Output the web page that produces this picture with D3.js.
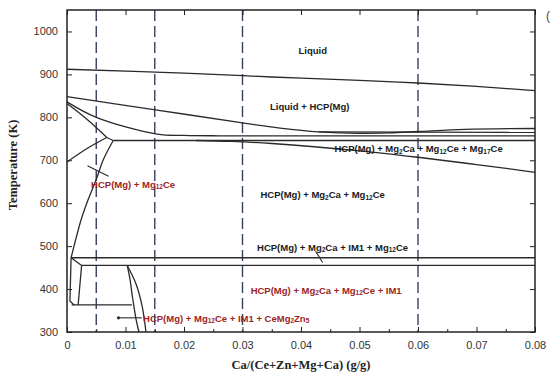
<!DOCTYPE html>
<html>
<head>
<meta charset="utf-8">
<script src="https://cdn.jsdelivr.net/npm/d3@7"></script>
<style>
  html, body { margin: 0; padding: 0; background: #fff; }
  svg { display: block; }
</style>
</head>
<body>
<svg id="chart" width="555" height="381"></svg>
<script>
// Isopleth section: Ca mass fraction vs temperature
const xTicks = [0, 0.01, 0.02, 0.03, 0.04, 0.05, 0.06, 0.07, 0.08];
const xMinorTicks = [0.005, 0.015, 0.025, 0.035, 0.045, 0.055, 0.065, 0.075];
const yTicks = [300, 400, 500, 600, 700, 800, 900, 1000];
const dashedCompositions = [0.005, 0.015, 0.03, 0.06];

// Phase boundaries as [Ca fraction, temperature K]
const liquidus = [[0, 912], [0.02, 903], [0.035, 894], [0.05, 886], [0.06, 880], [0.07, 872], [0.08, 862]];
const solidusUpper = [[0, 848], [0.0154, 817], [0.03, 787], [0.0364, 775], [0.043, 766], [0.0483, 763], [0.055, 764], [0.06, 767], [0.068, 772], [0.08, 774]];
const solidusMid = [[0, 836], [0.005, 800], [0.0154, 761], [0.02, 758], [0.026, 757], [0.08, 757]];
const threePhaseUpper = [[0.043, 766], [0.08, 765]];
const eutecticFlat = [[0.0079, 746], [0.08, 746]];
const lowerBoundary = [[0.022, 746], [0.028, 744], [0.035, 739], [0.05, 722], [0.06, 707], [0.07, 690], [0.08, 672]];
const hcpUpper = [[0, 832], [0.003, 800], [0.0055, 770], [0.0068, 753]];
const hcpLower = [[0, 696], [0.0035, 728], [0.0068, 753]];
const peakLink = [[0.0068, 753], [0.0079, 746]];
const solvus = [[0.0079, 746], [0.0062, 701], [0.005, 655], [0.0036, 608], [0.0024, 561], [0.0012, 500], [0.0007, 473]];
const flat473 = [[0.0007, 473], [0.08, 473]];
const flat455 = [[0.0025, 455], [0.08, 455]];
const lowLink = [[0.0007, 473], [0.0025, 455]];
const lowLeft = [[0.0007, 473], [0.0005, 372], [0.0012, 363]];
const lowVertical = [[0.0025, 455], [0.0019, 363]];
const flat363 = [[0.0008, 363], [0.0111, 363]];
const lensLeft = [[0.0103, 455], [0.0108, 420], [0.0111, 390], [0.0114, 363], [0.0118, 330], [0.0123, 300]];
const lensRight = [[0.0103, 455], [0.0118, 412], [0.0128, 363], [0.0135, 300]];

const curvedBoundaries = [liquidus, solidusUpper, solidusMid, lowerBoundary, hcpUpper, hcpLower, solvus, lensLeft, lensRight];
const straightBoundaries = [threePhaseUpper, eutecticFlat, peakLink, flat473, flat455, lowLink, lowLeft, lowVertical, flat363];

// Leader lines from labels to narrow fields
const leaders = [
  [[0.0035, 687], [0.0071, 663]],
  [[0.0425, 488], [0.0437, 462]],
  [[0.0088, 333], [0.0128, 333]]
];
const leaderDots = [[0.0088, 333]];

// Phase-field labels: text uses _{..} for subscripts; [Ca fraction, K, anchor]
const blackLabels = [
  ["Liquid", 0.042, 957, "middle"],
  ["Liquid + HCP(Mg)", 0.0415, 826, "middle"],
  ["HCP(Mg) + Mg_{2}Ca + Mg_{12}Ce + Mg_{17}Ce", 0.0601, 728, "middle"],
  ["HCP(Mg) + Mg_{2}Ca + Mg_{12}Ce", 0.0437, 621, "middle"],
  ["HCP(Mg) + Mg_{2}Ca + IM1 + Mg_{12}Ce", 0.0454, 499, "middle"]
];
const redLabels = [
  ["HCP(Mg) + Mg_{12}Ce", 0.0113, 645, "middle"],
  ["HCP(Mg) + Mg_{2}Ca + Mg_{12}Ce + IM1", 0.0443, 398, "middle"],
  ["HCP(Mg) + Mg_{12}Ce + IM1 + CeMg_{2}Zn_{5}", 0.013, 333, "start"]
];

const xTitle = "Ca/(Ce+Zn+Mg+Ca) (g/g)";
const yTitle = "Temperature (K)";

const svg = d3.select("#chart");
const margin = { left: 67, right: 535, top: 10, bottom: 332 };

const x = d3.scaleLinear().domain([0, 0.08]).range([margin.left, margin.right]);
const y = d3.scaleLinear().domain([300, 1050]).range([margin.bottom, margin.top]);

const tickFont = "'Liberation Sans', Arial, sans-serif";
const labelFont = "'Liberation Sans', Arial, sans-serif";
const titleFont = "'Liberation Serif', 'Times New Roman', serif";

// Composition guide lines
svg.append("g").selectAll("line").data(dashedCompositions).join("line")
  .attr("x1", d => x(d)).attr("x2", d => x(d))
  .attr("y1", y(1050)).attr("y2", y(300))
  .attr("stroke", "#34415e").attr("stroke-width", 1.4)
  .attr("stroke-dasharray", "11,5");

const smooth = d3.line().x(d => x(d[0])).y(d => y(d[1])).curve(d3.curveCatmullRom.alpha(0.5));
const straight = d3.line().x(d => x(d[0])).y(d => y(d[1]));

const gLines = svg.append("g").attr("fill", "none").attr("stroke", "#2a2a2a").attr("stroke-width", 1.3);
gLines.selectAll("path.c").data(curvedBoundaries).join("path").attr("class", "c").attr("d", smooth);
gLines.selectAll("path.s").data(straightBoundaries).join("path").attr("class", "s").attr("d", straight);
gLines.selectAll("path.l").data(leaders).join("path").attr("class", "l").attr("d", straight).attr("stroke-width", 1.1);
svg.append("g").selectAll("circle").data(leaderDots).join("circle")
  .attr("cx", d => x(d[0])).attr("cy", d => y(d[1])).attr("r", 1.6).attr("fill", "#2a2a2a");

// Axes with inward ticks on all four sides
const axB = d3.axisBottom(x).tickValues(xTicks).tickSize(-5).tickPadding(9)
  .tickFormat(d => d === 0 ? "0" : d3.format(".2f")(d));
const axBminor = d3.axisBottom(x).tickValues(xMinorTicks).tickSize(-3).tickFormat("");
const axT = d3.axisTop(x).tickValues(xTicks).tickSize(-5).tickFormat("");
const axL = d3.axisLeft(y).tickValues(yTicks).tickSize(-5).tickPadding(9).tickFormat(d3.format("d"));
const axR = d3.axisRight(y).tickValues(yTicks).tickSize(-5).tickFormat("");

function styleAxis(g) {
  g.select(".domain").remove();
  g.selectAll(".tick line").attr("stroke", "#222").attr("stroke-width", 1);
  g.selectAll("text").attr("font-family", tickFont).attr("font-size", 11).attr("fill", "#333");
}
svg.append("g").attr("transform", `translate(0,${margin.bottom})`).call(axB).call(styleAxis);
svg.append("g").attr("transform", `translate(0,${margin.bottom})`).call(axBminor).call(styleAxis);
svg.append("g").attr("transform", `translate(0,${margin.top})`).call(axT).call(styleAxis);
svg.append("g").attr("transform", `translate(${margin.left},0)`).call(axL).call(styleAxis);
svg.append("g").attr("transform", `translate(${margin.right},0)`).call(axR).call(styleAxis);

// Plot frame
svg.append("rect")
  .attr("x", margin.left).attr("y", margin.top)
  .attr("width", margin.right - margin.left).attr("height", margin.bottom - margin.top)
  .attr("fill", "none").attr("stroke", "#222").attr("stroke-width", 1.5);

// Labels with chemical subscripts
function addLabel(row, color) {
  const [text, c, t, anchor] = row;
  const el = svg.append("text")
    .attr("x", x(c)).attr("y", y(t))
    .attr("text-anchor", anchor)
    .attr("dominant-baseline", "central")
    .attr("font-family", labelFont).attr("font-weight", "bold")
    .attr("font-size", 9.5).attr("fill", color);
  let lowered = false;
  text.split(/(_\{[^}]*\})/).filter(s => s.length).forEach(p => {
    if (p.startsWith("_{")) {
      el.append("tspan").text(p.slice(2, -1)).attr("font-size", 6.5).attr("dy", lowered ? 0 : 2.5);
      lowered = true;
    } else {
      el.append("tspan").text(p).attr("dy", lowered ? -2.5 : 0);
      lowered = false;
    }
  });
}
blackLabels.forEach(r => addLabel(r, "#1a1a1a"));
redLabels.forEach(r => addLabel(r, "#9e1f24"));

// Axis titles
svg.append("text")
  .attr("x", (margin.left + margin.right) / 2).attr("y", 369)
  .attr("text-anchor", "middle")
  .attr("font-family", titleFont).attr("font-weight", "bold").attr("font-size", 12.5)
  .attr("fill", "#222").text(xTitle);
svg.append("text")
  .attr("transform", `translate(17,${(margin.top + margin.bottom) / 2 - 6}) rotate(-90)`)
  .attr("text-anchor", "middle")
  .attr("font-family", titleFont).attr("font-weight", "bold").attr("font-size", 12.5)
  .attr("fill", "#222").text(yTitle);

// Bracket glyph at the right edge
svg.append("text").attr("x", 546).attr("y", 20)
  .attr("font-family", labelFont).attr("font-size", 12).attr("fill", "#444").text("(");
</script>
</body>
</html>
